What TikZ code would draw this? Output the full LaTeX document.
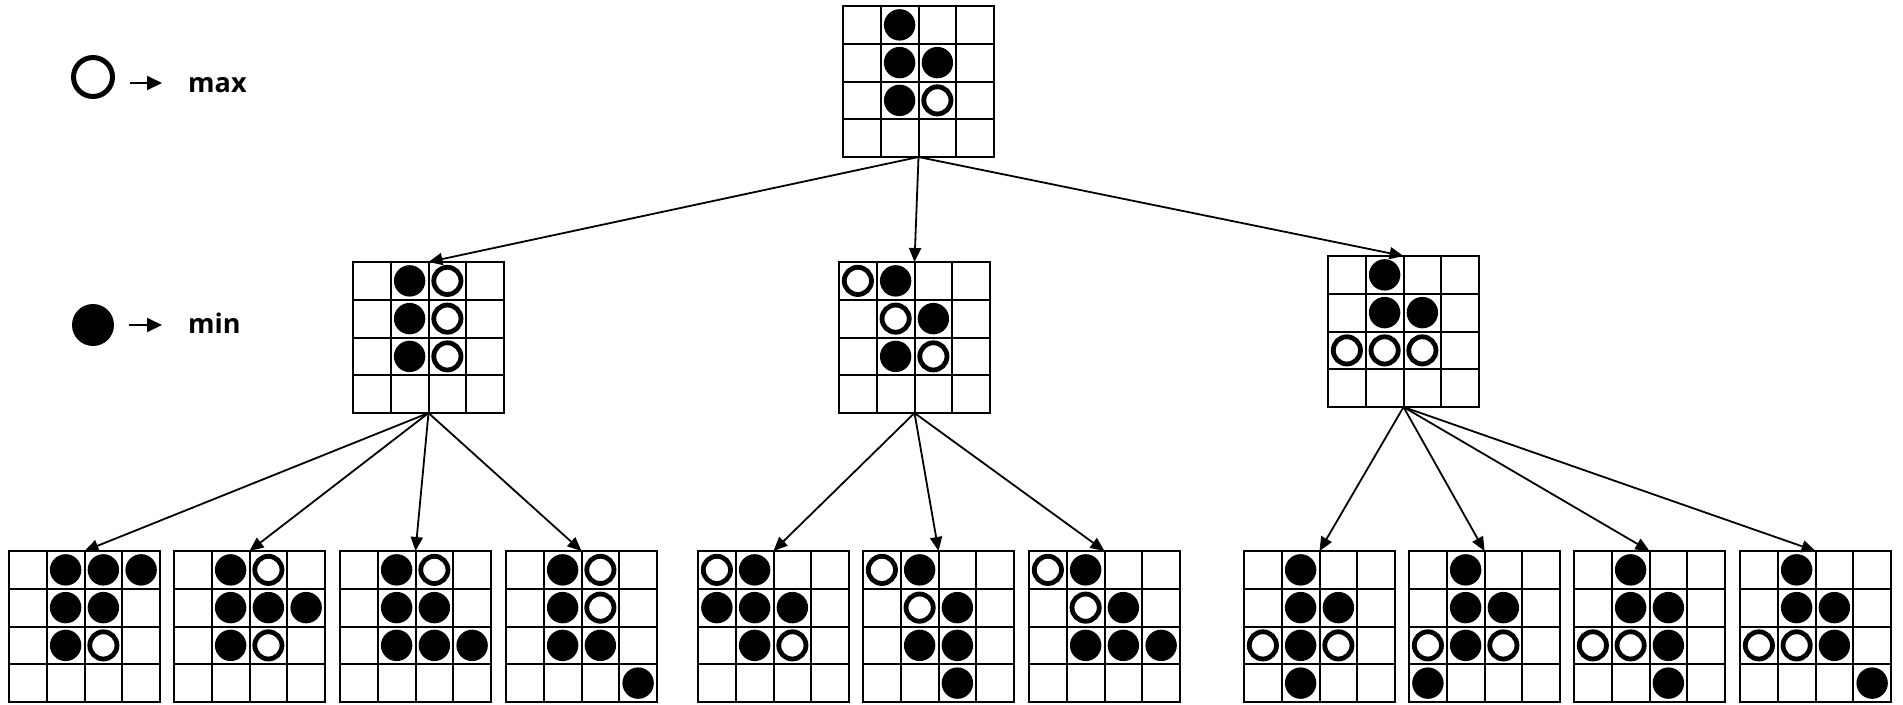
\documentclass[tikz,border=0pt]{standalone}
\usepackage{fontspec}
\setmainfont{Open Sans}
\usetikzlibrary{arrows.meta}
\tikzset{
 board/.style={draw, line width=2pt, rectangle, minimum width=151pt, minimum height=151pt, inner sep=0pt, outer sep=0pt},
 gridline/.style={line width=2pt},
 blackstone/.style={fill=black},
 whitestone/.style={draw=black, line width=4.8pt, fill=white},
 conn/.style={line width=1.8pt, -{Triangle[length=14pt,width=12pt]}},
 legarrow/.style={line width=2pt, -{Triangle[length=15pt,width=14pt]}},
 legtext/.style={font=\fontsize{27}{30}\selectfont\bfseries, anchor=base west, inner sep=0pt},
}
\newcommand\goboard[5]{%
 \node[board] (#1) at ({#2+75.5},{-#3-75.5}) {};
 \begin{scope}[shift={(#1.north west)}]
 \foreach \i in {1,2,3} {
  \draw[gridline] ({\i*37.75},0) -- ({\i*37.75},-151);
  \draw[gridline] (0,{-\i*37.75}) -- (151,{-\i*37.75});
 }
 \foreach \c/\r in {#4} \fill[blackstone] ({\c*37.75+18.875},{-\r*37.75-18.875}) circle (15.7);
 \foreach \c/\r in {#5} \draw[whitestone] ({\c*37.75+18.875},{-\r*37.75-18.875}) circle (13.6);
 \end{scope}}
\begin{document}
\begin{tikzpicture}[x=1pt,y=1pt]
\useasboundingbox (0,0) rectangle (1903,-704);
% legend
\node[circle, draw, line width=5pt, minimum size=39pt, inner sep=0pt] (lw) at (93,-77) {};
\node[circle, fill=black, minimum size=42pt, inner sep=0pt] (lb) at (93,-325) {};
\node[legtext] (tmax) at (188,-92) {max};
\node[legtext] (tmin) at (188,-333) {min};
\coordinate (a1s) at (130,-83); \coordinate (a1e) at (162,-83);
\coordinate (a2s) at (129,-325); \coordinate (a2e) at (162,-325);
\draw[legarrow] (a1s) -- (a1e);
\draw[legarrow] (a2s) -- (a2e);
% boards
\goboard{top}{843}{6}{1/0,1/1,2/1,1/2}{2/2}
\goboard{ml}{353}{262}{1/0,1/1,1/2}{2/0,2/1,2/2}
\goboard{mc}{839}{262}{1/0,2/1,1/2}{0/0,1/1,2/2}
\goboard{mr}{1328}{256}{1/0,1/1,2/1}{0/2,1/2,2/2}
\goboard{b1}{9}{551}{1/0,2/0,3/0,1/1,2/1,1/2}{2/2}
\goboard{b2}{174}{551}{1/0,1/1,2/1,3/1,1/2}{2/0,2/2}
\goboard{b3}{340}{551}{1/0,1/1,2/1,1/2,2/2,3/2}{2/0}
\goboard{b4}{506}{551}{1/0,1/1,1/2,2/2,3/3}{2/0,2/1}
\goboard{b5}{698}{551}{1/0,0/1,1/1,2/1,1/2}{0/0,2/2}
\goboard{b6}{863}{551}{1/0,2/1,1/2,2/2,2/3}{0/0,1/1}
\goboard{b7}{1029}{551}{1/0,2/1,1/2,2/2,3/2}{0/0,1/1}
\goboard{b8}{1244}{551}{1/0,1/1,2/1,1/2,1/3}{0/2,2/2}
\goboard{b9}{1409}{551}{1/0,1/1,2/1,1/2,0/3}{0/2,2/2}
\goboard{b10}{1574}{551}{1/0,1/1,2/1,2/2,2/3}{0/2,1/2}
\goboard{b11}{1740}{551}{1/0,1/1,2/1,2/2,3/3}{0/2,1/2}
% connectors
\foreach \t in {ml,mc,mr} \draw[conn] (top.south) -- (\t.north);
\foreach \t in {b1,b2,b3,b4} \draw[conn] (ml.south) -- (\t.north);
\foreach \t in {b5,b6,b7} \draw[conn] (mc.south) -- (\t.north);
\foreach \t in {b8,b9,b10,b11} \draw[conn] (mr.south) -- (\t.north);
\end{tikzpicture}
\end{document}
